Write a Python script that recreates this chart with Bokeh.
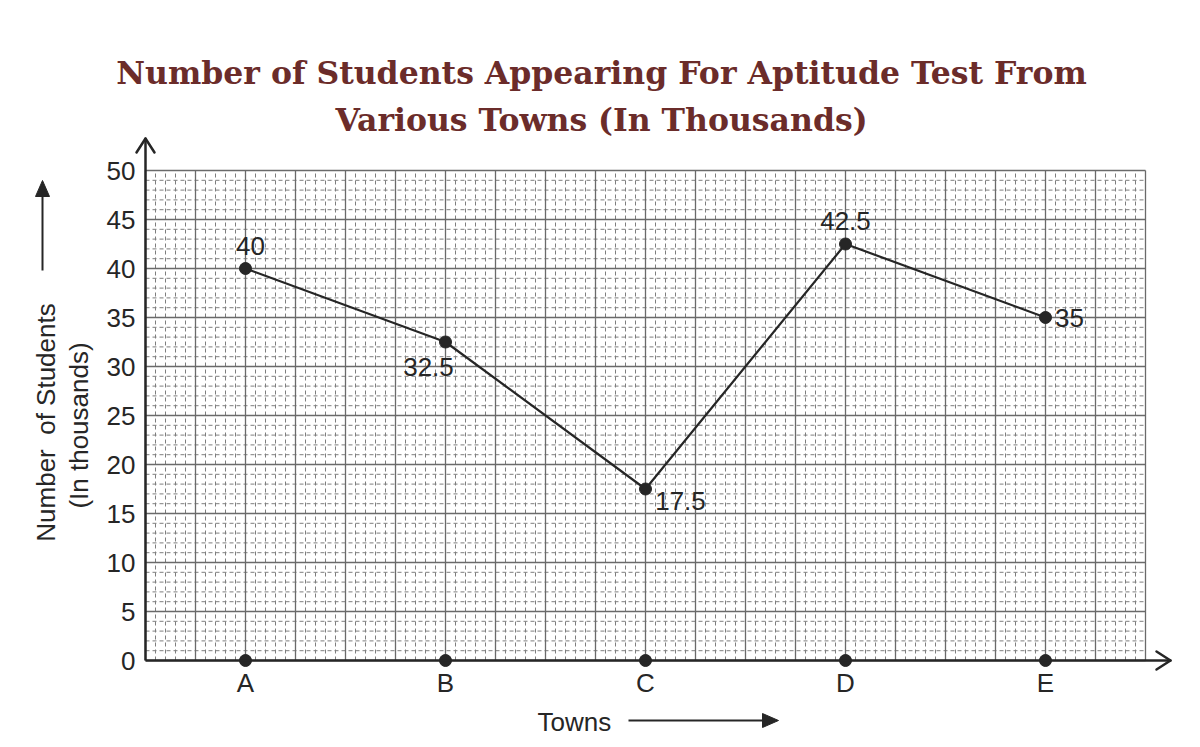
import numpy as np
from bokeh.plotting import figure
from bokeh.models import Range1d, FixedTicker, ColumnDataSource
from bokeh.core.properties import value
from bokeh.embed import file_html
from bokeh.resources import INLINE

# ---- data ----
towns = ["A", "B", "C", "D", "E"]
students = [40, 32.5, 17.5, 42.5, 35]
y_ticks = [0, 5, 10, 15, 20, 25, 30, 35, 40, 45, 50]
title_lines = ["Number of Students Appearing For Aptitude Test From",
               "Various Towns (In Thousands)"]
x_title = "Towns"
y_titles = ["Number\u00a0\u00a0of Students", "(In thousands)"]

# ---- styles / layout ----
label_dx = [5, -17, 35, 0, 24]
label_dy = [-23, 25, 12, -23, 0]
INK = "#262626"
SANS = "Liberation Sans"
W, H = 1184, 739
FL, FR, FT, FB = 145, 1145, 170, 660  # graph-paper edges (px)

xi = list(range(len(towns)))
x_lo, x_hi = -0.5, len(towns) - 0.5
y_lo, y_hi = y_ticks[0], y_ticks[-1]
sx = (FR - FL) / (x_hi - x_lo)   # px per x unit
sy = (FB - FT) / (y_hi - y_lo)   # px per y unit


def X(px):
    return x_lo + (px - FL) / sx


def Y(py):
    return y_lo + (FB - py) / sy


p = figure(width=W, height=H, x_range=Range1d(X(0), X(W)), y_range=Range1d(Y(H), Y(0)),
           output_backend="svg", toolbar_location=None, min_border=0)
p.outline_line_color = None
p.background_fill_color = "white"
p.border_fill_color = "white"
p.xgrid.visible = False
p.ygrid.visible = False

# ---- graph paper ----
vx_all = np.round(np.arange(x_lo, x_hi + 1e-9, 0.05), 4)
vx_major = [v for v in vx_all if abs((v - x_lo) / 0.25 - round((v - x_lo) / 0.25)) < 1e-6]
vx_minor = [v for v in vx_all if v not in vx_major]
hy_all = np.arange(y_lo, y_hi + 1e-9, 1.0)
hy_major = [v for v in hy_all if v in y_ticks]
hy_minor = [v for v in hy_all if v not in y_ticks]
minor_style = dict(line_color="#7e7e7e", line_width=1, line_dash="4 3")
major_style = dict(line_color="#6a6a6a", line_width=1.3)
p.segment(x0=vx_minor, y0=y_lo, x1=vx_minor, y1=y_hi, **minor_style)
p.segment(x0=x_lo, y0=hy_minor, x1=x_hi, y1=hy_minor, **minor_style)
p.segment(x0=vx_major, y0=y_lo, x1=vx_major, y1=y_hi, **major_style)
p.segment(x0=x_lo, y0=hy_major, x1=x_hi, y1=hy_major, **major_style)

# ---- axes (fixed at the graph-paper edges) ----
y_tip = y_hi + 32 / sy
x_tip = x_hi + 25 / sx
p.xaxis.fixed_location = y_lo
p.xaxis.bounds = (x_lo, x_tip)
p.yaxis.fixed_location = x_lo
p.yaxis.bounds = (y_lo, y_tip)
p.xaxis.ticker = FixedTicker(ticks=xi)
p.xaxis.major_label_overrides = {i: t for i, t in enumerate(towns)}
p.yaxis.ticker = FixedTicker(ticks=y_ticks)
for ax in (p.xaxis, p.yaxis):
    ax.axis_line_color = INK
    ax.axis_line_width = 2.5
    ax.major_tick_line_color = None
    ax.minor_tick_line_color = None
    ax.major_label_text_font = SANS
    ax.major_label_text_font_size = "26px"
    ax.major_label_text_color = INK
p.xaxis.major_label_standoff = 1
p.yaxis.major_label_standoff = 4


def open_head(tx, ty, dx, dy, length=14, half=9, width=2.5):
    bx, by = tx - dx * length / sx, ty - dy * length / sy
    nx, ny = -dy, dx
    p.segment(x0=[tx, tx], y0=[ty, ty],
              x1=[bx + nx * half / sx, bx - nx * half / sx],
              y1=[by + ny * half / sy, by - ny * half / sy],
              line_color=INK, line_width=width, line_cap="round")


def filled_arrow(x0, y0, tx, ty, dx, dy, length=16, half=7):
    bx, by = tx - dx * length / sx, ty - dy * length / sy
    nx, ny = -dy, dx
    p.segment(x0=[x0], y0=[y0], x1=[bx], y1=[by], line_color=INK, line_width=2)
    p.patch(x=[tx, bx + nx * half / sx, bx - nx * half / sx],
            y=[ty, by + ny * half / sy, by - ny * half / sy],
            fill_color=INK, line_color=INK, line_width=1)


open_head(x_lo, y_tip, 0, 1)
open_head(x_tip, y_lo, 1, 0)

# ---- data line & points ----
src = ColumnDataSource(dict(x=xi, y=students, lab=[f"{v:g}" for v in students],
                            dx=label_dx, dy=label_dy, base=[0] * len(towns)))
p.line("x", "y", source=src, line_color=INK, line_width=2.2)
p.scatter("x", "y", source=src, size=12, color=INK)
p.scatter("x", "base", source=src, size=12, color=INK)
p.text("x", "y", text="lab", source=src, x_offset="dx", y_offset="dy",
       text_align="center", text_baseline="middle",
       text_font=value(SANS), text_font_size="26px", text_color=INK)

# ---- title ----
p.text(x=[X(601), X(601)], y=[Y(72), Y(119)], text=title_lines,
       text_align="center", text_baseline="alphabetic",
       text_font=value("DejaVu Serif"), text_font_style="bold",
       text_font_size="31.5px", text_color="#6b2c2a")

# ---- x axis title ----
p.text(x=[X(537)], y=[Y(721)], text=[x_title], text_align="left", text_baseline="middle",
       text_font=value(SANS), text_font_size="26px", text_color=INK)
filled_arrow(X(628), Y(720), X(778), Y(720), 1, 0)

# ---- y axis title ----
p.text(x=[X(45), X(78)], y=[Y(422), Y(425)], text=y_titles, angle=np.pi / 2,
       text_align="center", text_baseline="middle",
       text_font=value(SANS), text_font_size="26px", text_color=INK)
filled_arrow(X(42), Y(270), X(42), Y(180), 0, 1)

open("out.html", "w").write(file_html(p, INLINE))
